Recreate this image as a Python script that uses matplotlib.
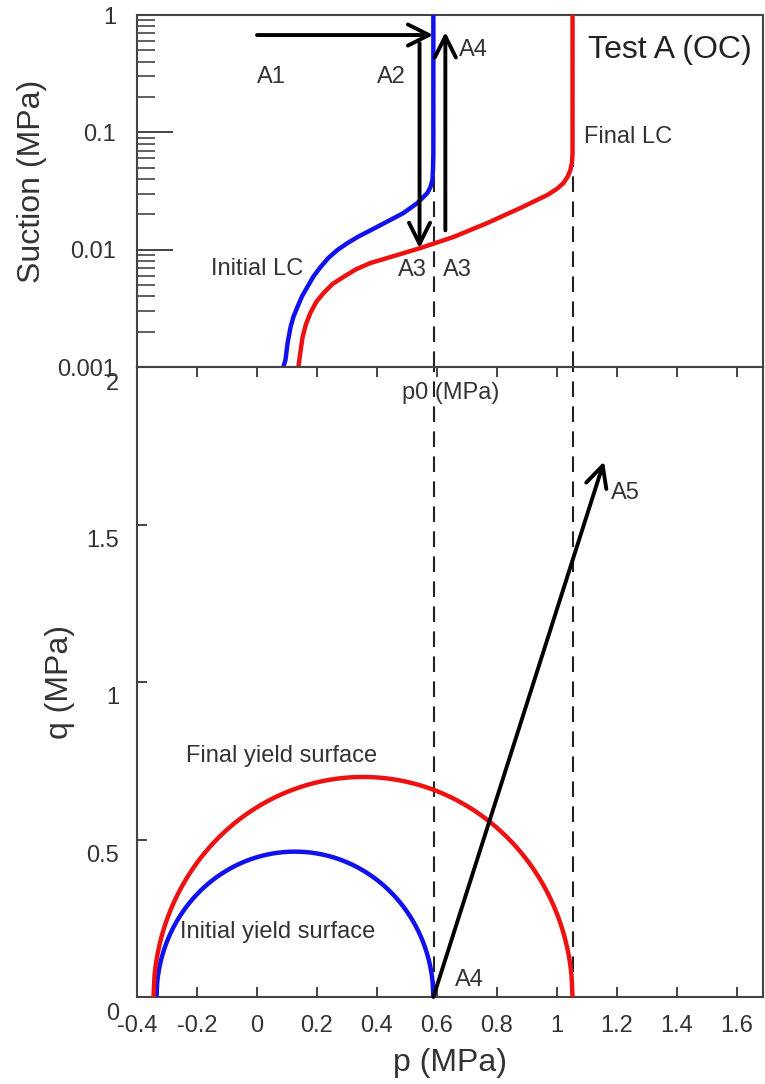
import numpy as np
import matplotlib
matplotlib.use("Agg")
import matplotlib.pyplot as plt
from matplotlib.transforms import ScaledTranslation

plt.rcParams['font.family'] = ['Liberation Sans', 'DejaVu Sans']
plt.rcParams['axes.unicode_minus'] = False

# --- Loading-collapse (LC) curves: p0 (MPa) vs suction s (MPa) ---
lc_init_p = [0.088, 0.095, 0.102, 0.112, 0.122, 0.135, 0.150, 0.168, 0.188,
             0.212, 0.238, 0.268, 0.300, 0.335, 0.412, 0.488, 0.535, 0.568,
             0.578, 0.585, 0.587, 0.588, 0.588]
lc_init_s = [0.001, 0.00115, 0.0016, 0.00219, 0.0027, 0.00325, 0.0040, 0.00481,
             0.0059, 0.00712, 0.0085, 0.00993, 0.0113, 0.0128, 0.0162, 0.0205,
             0.0250, 0.0304, 0.034, 0.0393, 0.050, 0.0667, 1.0]
lc_final_p = [0.138, 0.144, 0.152, 0.163, 0.178, 0.198, 0.222, 0.252, 0.288,
              0.330, 0.378, 0.468, 0.545, 0.655, 0.768, 0.878, 0.968, 1.000,
              1.022, 1.036, 1.045, 1.050, 1.052, 1.052]
lc_final_s = [0.001, 0.0013, 0.0018, 0.0023, 0.00289, 0.0036, 0.00427, 0.0051,
              0.00585, 0.0068, 0.00769, 0.00901, 0.01033, 0.01282, 0.01687,
              0.02265, 0.02924, 0.033, 0.0370, 0.042, 0.0478, 0.055, 0.0667, 1.0]

# --- Yield surfaces in p-q plane: q^2 = M^2 (p + ps)(p0 - p) ---
M = 1.0
ys_init_ps, ys_init_p0 = 0.335, 0.588
ys_final_ps, ys_final_p0 = 0.345, 1.052
p0_lines = [0.59, 1.055]

# --- Stress path segments ---
path_A1 = [(0.0, 0.675), (0.588, 0.675)]        # p increase at constant s
path_A2 = [(0.542, 0.577), (0.542, 0.0103)]     # wetting
path_A4 = [(0.628, 0.0146), (0.628, 0.716)]     # drying
path_A5 = [(0.588, 0.0), (1.157, 1.70)]         # shearing

xticks = [-0.4, -0.2, 0, 0.2, 0.4, 0.6, 0.8, 1, 1.2, 1.4, 1.6]
xticklabels = ['-0.4', '-0.2', '0', '0.2', '0.4', '0.6', '0.8', '1', '1.2', '1.4', '1.6']
sticks = [0.001, 0.01, 0.1, 1]
sticklabels = ['0.001', '0.01', '0.1', '1']
qticks = [0, 0.5, 1, 1.5, 2]
qticklabels = ['0', '0.5', '1', '1.5', '2']

TXT = '#333333'
SP = '#444444'
RED = '#ee1111'
BLUE = '#1111ee'
DASH = (0, (7.5, 4.5))

fig = plt.figure(figsize=(7.65, 10.84), dpi=100)
L, R = 137 / 765, 763 / 765
ax1 = fig.add_axes([L, 1 - 367 / 1084, R - L, (367 - 15) / 1084])
ax2 = fig.add_axes([L, 1 - 997 / 1084, R - L, (997 - 367) / 1084])

for ax in (ax1, ax2):
    for sp in ax.spines.values():
        sp.set_color(SP)
        sp.set_linewidth(1.5)
    ax.set_xlim(-0.4, 1.687)

# ---------------- top panel ----------------
ax1.set_yscale('log')
ax1.set_ylim(0.001, 1)
for pv in p0_lines:
    ax1.plot([pv, pv], [0.001, 1], color='#222222', lw=1.5, ls=DASH, zorder=1)
ax1.plot(lc_init_p, lc_init_s, color=BLUE, lw=3.2, zorder=3,
         solid_capstyle='butt', solid_joinstyle='round')
ax1.plot(lc_final_p, lc_final_s, color=RED, lw=3.2, zorder=3,
         solid_capstyle='butt', solid_joinstyle='round')

arrow_kw = dict(arrowstyle='->', lw=2.8, color='black', mutation_scale=38,
                shrinkA=0, shrinkB=0)
for (xy0, xy1) in (path_A1, path_A2, path_A4):
    ax1.annotate('', xy=xy1, xytext=xy0, arrowprops=arrow_kw, zorder=4)

fs_ann = 17
ax1.text(0.048, 0.296, 'A1', fontsize=fs_ann, color=TXT, ha='center', va='center')
ax1.text(0.448, 0.296, 'A2', fontsize=fs_ann, color=TXT, ha='center', va='center')
ax1.text(0.722, 0.503, 'A4', fontsize=fs_ann, color=TXT, ha='center', va='center')
ax1.text(0.518, 0.0067, 'A3', fontsize=fs_ann, color=TXT, ha='center', va='center')
ax1.text(0.668, 0.0067, 'A3', fontsize=fs_ann, color=TXT, ha='center', va='center')
ax1.text(0.0, 0.0069, 'Initial LC', fontsize=fs_ann, color=TXT, ha='center', va='center')
ax1.text(1.238, 0.091, 'Final LC', fontsize=fs_ann, color=TXT, ha='center', va='center')
ax1.text(1.378, 0.50, 'Test A (OC)', fontsize=23, color='#222222', ha='center', va='center')

ax1.set_yticks(sticks)
ax1.set_yticklabels(sticklabels)
ax1.tick_params(axis='y', which='major', direction='in', length=26, width=1.4,
                color=SP, labelsize=17, labelcolor=TXT, pad=15)
ax1.tick_params(axis='y', which='minor', direction='in', length=13, width=1.2, color=SP)
ax1.tick_params(axis='x', which='both', bottom=False, labelbottom=False)
ax1.set_xticks(xticks)
ax1.set_ylabel('Suction (MPa)', fontsize=23, color=TXT)
ax1.yaxis.set_label_coords(-0.144, 0.528)

# ---------------- bottom panel ----------------
ax2.set_ylim(0, 2)
for pv in p0_lines:
    ax2.plot([pv, pv], [0, 2], color='#222222', lw=1.5, ls=DASH, zorder=1)

for ps, p0, col in ((ys_init_ps, ys_init_p0, BLUE), (ys_final_ps, ys_final_p0, RED)):
    pp = np.linspace(-ps, p0, 400)
    qq = M * np.sqrt(np.clip((pp + ps) * (p0 - pp), 0, None))
    ax2.plot(pp, qq, color=col, lw=3.2, zorder=3)

ax2.annotate('', xy=path_A5[1], xytext=path_A5[0], arrowprops=arrow_kw, zorder=4)

ax2.text(1.228, 1.60, 'A5', fontsize=fs_ann, color=TXT, ha='center', va='center')
ax2.text(0.708, 0.054, 'A4', fontsize=fs_ann, color=TXT, ha='center', va='center')
ax2.text(0.645, 1.917, 'p0 (MPa)', fontsize=fs_ann, color=TXT, ha='center', va='center')
ax2.text(0.083, 0.766, 'Final yield surface', fontsize=fs_ann, color=TXT,
         ha='center', va='center')
ax2.text(0.068, 0.206, 'Initial yield surface', fontsize=fs_ann, color=TXT,
         ha='center', va='center')

ax2.set_xticks(xticks)
ax2.set_xticklabels(xticklabels)
ax2.set_yticks(qticks)
ax2.set_yticklabels(qticklabels)
ax2.tick_params(axis='x', direction='in', length=7, width=1.4, color=SP, top=True,
                labelsize=17, labelcolor=TXT, pad=13)
ax2.tick_params(axis='y', direction='in', length=7, width=1.4, color=SP,
                labelsize=17, labelcolor=TXT, pad=13)
shift = ScaledTranslation(0, -14 / 100, fig.dpi_scale_trans)
for lab in ax2.get_yticklabels():
    lab.set_transform(lab.get_transform() + shift)

ax2.set_xlabel('p (MPa)', fontsize=23, color=TXT)
ax2.xaxis.set_label_coords(0.5, -0.081)
ax2.set_ylabel('q (MPa)', fontsize=23, color=TXT)
ax2.yaxis.set_label_coords(-0.099, 0.5)

fig.savefig('out.png', dpi=100)
